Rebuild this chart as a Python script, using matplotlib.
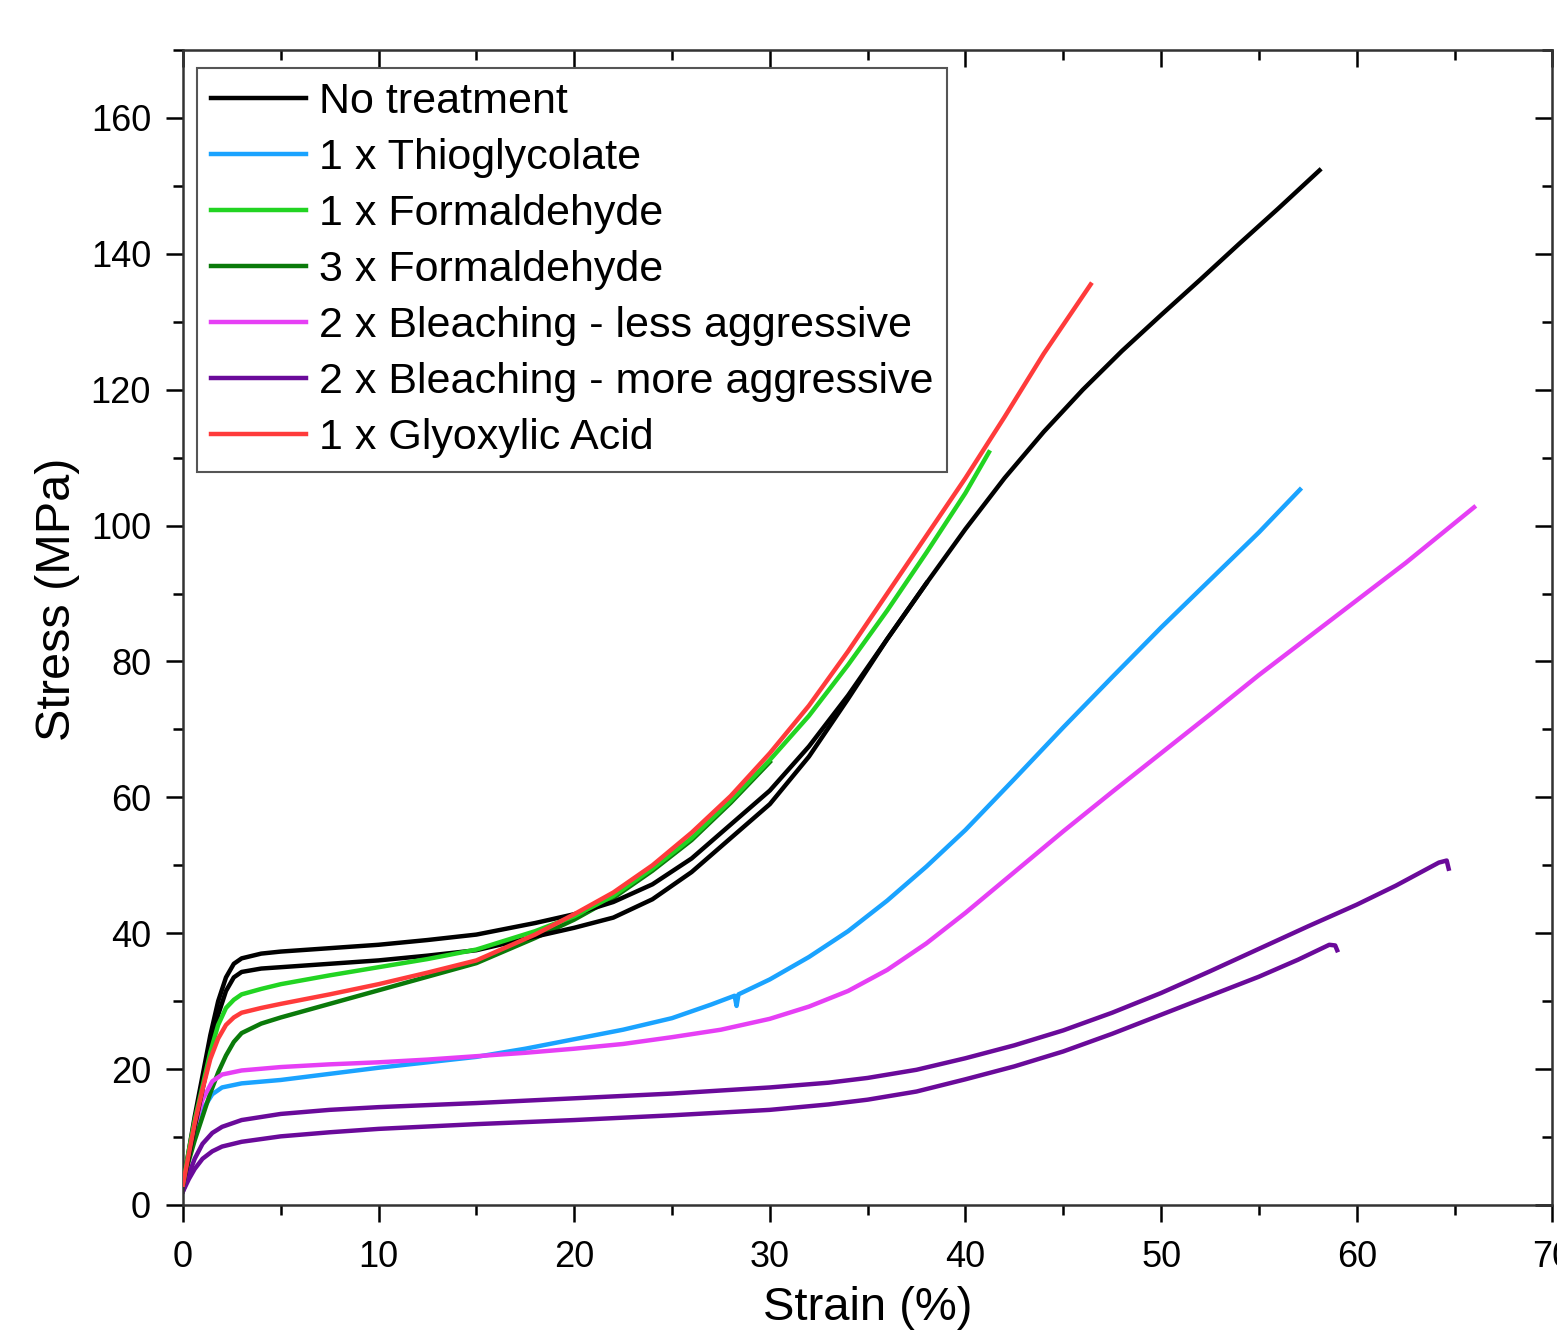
import numpy as np
import matplotlib
matplotlib.use("Agg")
import matplotlib.pyplot as plt
from matplotlib.ticker import MultipleLocator

plt.rcParams['font.family'] = ['Liberation Sans', 'DejaVu Sans']

# No treatment, two samples
nt1_x = [0, 0.3, 0.6, 1.0, 1.4, 1.8, 2.2, 2.6, 3.0, 4, 5, 7.5, 10, 12.5, 15, 18, 20, 22, 24, 26, 28,
         30, 32, 34, 36, 38, 40, 42, 44, 46, 48, 50, 52, 54, 56, 58.1]
nt1_y = [3, 8, 13, 19, 25, 30, 33.5, 35.5, 36.3, 37, 37.3, 37.8, 38.3, 39, 39.8, 41.5, 42.8, 44.6, 47.2, 51, 56,
         61, 67.5, 75, 83.3, 91.5, 99.5, 107, 113.8, 120, 125.7, 131, 136.2, 141.5, 146.7, 152.3]
nt2_x = [0, 0.3, 0.6, 1.0, 1.4, 1.8, 2.2, 2.6, 3.0, 4, 5, 7.5, 10, 12.5, 15, 18, 20, 22, 24, 26, 28,
         30, 32, 34, 36, 38]
nt2_y = [3, 7, 11.5, 17, 22.5, 28, 31.5, 33.5, 34.3, 34.8, 35.0, 35.5, 36.0, 36.7, 37.5, 39.5, 40.8, 42.3, 45, 49, 54,
         59, 66, 74.5, 83.3, 91.5]

# 1 x Thioglycolate
thio_x = [0, 0.3, 0.6, 1.0, 1.5, 2.0, 3, 5, 7.5, 10, 12.5, 15, 17.5, 20, 22.5, 25, 27, 28.2, 28.3, 28.4,
          30, 32, 34, 36, 38, 40, 42.5, 45, 47.5, 50, 52.5, 55, 57.1]
thio_y = [3, 7, 10.5, 14, 16.3, 17.3, 17.9, 18.4, 19.3, 20.2, 21, 21.8, 23, 24.4, 25.8, 27.5, 29.5, 30.8, 29.3, 31,
          33.2, 36.5, 40.3, 44.8, 49.8, 55.2, 62.7, 70.3, 77.7, 85, 92, 99, 105.3]

# 1 x Formaldehyde
form1_x = [0, 0.3, 0.6, 1.0, 1.4, 1.8, 2.2, 2.6, 3.0, 4, 5, 7.5, 10, 12.5, 15, 18, 20, 22, 24, 26, 28,
           30, 32, 34, 36, 38, 40, 41.2]
form1_y = [3, 8, 12.5, 17.5, 22.5, 26.5, 29, 30.2, 31, 31.8, 32.5, 33.8, 35.0, 36.2, 37.6, 40.3, 42.5, 45.5, 49.5, 54, 59.5,
           65.5, 72, 79.5, 87.5, 96, 104.8, 110.8]

# 3 x Formaldehyde
form3_x = [0, 0.3, 0.6, 1.0, 1.4, 1.8, 2.2, 2.6, 3.0, 4, 5, 7.5, 10, 12.5, 15, 18, 20, 22, 24, 26, 28, 30]
form3_y = [3, 6.5, 9.5, 13, 16.5, 19.5, 22, 24, 25.3, 26.7, 27.6, 29.6, 31.6, 33.6, 35.6, 39.3, 42, 45.2, 49.2, 53.7, 59.2, 65.2]

# 2 x Bleaching - less aggressive
bl_less_x = [0, 0.3, 0.6, 1.0, 1.5, 2.0, 3, 5, 7.5, 10, 12.5, 15, 17.5, 20, 22.5, 25, 27.5, 30, 32, 34,
             36, 38, 40, 42.5, 45, 47.5, 50, 52.5, 55, 57.5, 60, 62.5, 66.0]
bl_less_y = [3, 7.5, 11.5, 15.5, 18.2, 19.2, 19.8, 20.3, 20.7, 21.0, 21.4, 21.9, 22.4, 23.0, 23.7, 24.7, 25.8, 27.4, 29.2, 31.5,
             34.6, 38.5, 43, 49, 55, 60.8, 66.5, 72.2, 78, 83.5, 89, 94.5, 102.7]

# 2 x Bleaching - more aggressive, two samples
bl_more1_x = [0, 0.3, 0.6, 1.0, 1.5, 2.0, 3, 5, 7.5, 10, 15, 20, 25, 30, 33, 35, 37.5, 40, 42.5, 45,
              47.5, 50, 52.5, 55, 57.5, 60, 62, 64.2, 64.6, 64.7]
bl_more1_y = [2, 4.5, 6.8, 9, 10.6, 11.5, 12.5, 13.4, 14.0, 14.4, 15.0, 15.7, 16.4, 17.3, 18.0, 18.7, 19.9, 21.6, 23.5, 25.7,
              28.3, 31.2, 34.4, 37.7, 41, 44.2, 47, 50.4, 50.7, 49.5]
bl_more2_x = [0, 0.3, 0.6, 1.0, 1.5, 2.0, 3, 5, 7.5, 10, 15, 20, 25, 30, 33, 35, 37.5, 40, 42.5, 45,
              47.5, 50, 52.5, 55, 57, 58.6, 58.9, 59.0]
bl_more2_y = [2, 3.8, 5.3, 6.8, 7.9, 8.6, 9.3, 10.1, 10.7, 11.2, 11.9, 12.5, 13.2, 14.0, 14.8, 15.5, 16.7, 18.5, 20.4, 22.6,
              25.2, 28.0, 30.8, 33.6, 36.1, 38.3, 38.2, 37.5]

# 1 x Glyoxylic Acid
glyox_x = [0, 0.3, 0.6, 1.0, 1.4, 1.8, 2.2, 2.6, 3.0, 4, 5, 7.5, 10, 12.5, 15, 18, 20, 22, 24, 26, 28,
           30, 32, 34, 36, 38, 40, 42, 44, 46.4]
glyox_y = [3, 7.5, 12, 17, 21.5, 24.5, 26.5, 27.6, 28.3, 29.0, 29.6, 31.0, 32.5, 34.2, 36.0, 39.8, 42.8, 46, 50, 54.8, 60.2,
           66.5, 73.5, 81.5, 90, 98.5, 107, 116, 125.3, 135.5]

fig = plt.figure(figsize=(15.57, 13.35), dpi=100)
ax = fig.add_axes([0.1175, 0.0974, 0.8795, 0.8651])

lw = 3.2
ax.plot(nt1_x, nt1_y, color='#000000', lw=lw, label='No treatment', zorder=3)
ax.plot(nt2_x, nt2_y, color='#000000', lw=lw, zorder=3)
ax.plot(thio_x, thio_y, color='#1aa3ff', lw=lw, label='1 x Thioglycolate')
ax.plot(form3_x, form3_y, color='#0a7a0a', lw=lw, zorder=2)
ax.plot(form1_x, form1_y, color='#22d422', lw=lw, label='1 x Formaldehyde', zorder=4)
ax.plot([], [], color='#0a7a0a', lw=lw, label='3 x Formaldehyde')
ax.plot(bl_less_x, bl_less_y, color='#e63ff5', lw=lw, label='2 x Bleaching - less aggressive')
ax.plot(bl_more1_x, bl_more1_y, color='#6a0a9a', lw=lw, label='2 x Bleaching - more aggressive')
ax.plot(bl_more2_x, bl_more2_y, color='#6a0a9a', lw=lw)
ax.plot(glyox_x, glyox_y, color='#ff3b3b', lw=lw, label='1 x Glyoxylic Acid', zorder=5)

ax.set_xlim(0, 70)
ax.set_ylim(0, 170)
ax.xaxis.set_major_locator(MultipleLocator(10))
ax.xaxis.set_minor_locator(MultipleLocator(5))
ax.yaxis.set_major_locator(MultipleLocator(20))
ax.yaxis.set_minor_locator(MultipleLocator(10))
ax.tick_params(which='major', direction='out', length=12, width=1.8, labelsize=26)
ax.tick_params(axis='x', which='major', pad=13)
ax.tick_params(axis='y', which='major', pad=11)
ax.tick_params(which='minor', direction='out', length=7, width=1.8)
for s in ax.spines.values():
    s.set_linewidth(1.8)
    s.set_color('#333333')

# mirrored ticks pointing inward on top and right
secx = ax.secondary_xaxis('top')
secx.xaxis.set_major_locator(MultipleLocator(10))
secx.xaxis.set_minor_locator(MultipleLocator(5))
secx.tick_params(which='major', direction='in', length=12, width=1.8, labeltop=False)
secx.tick_params(which='minor', direction='in', length=7, width=1.8)
secy = ax.secondary_yaxis('right')
secy.yaxis.set_major_locator(MultipleLocator(20))
secy.yaxis.set_minor_locator(MultipleLocator(10))
secy.tick_params(which='major', direction='in', length=12, width=1.8, labelright=False)
secy.tick_params(which='minor', direction='in', length=7, width=1.8)

ax.set_xlabel('Strain (%)', fontsize=34, labelpad=8)
ax.set_ylabel('Stress (MPa)', fontsize=35, labelpad=8)
ax.yaxis.set_label_coords(-0.075, 0.524)

leg = ax.legend(loc='upper left', bbox_to_anchor=(0.0102, 0.9844), borderaxespad=0,
                fontsize=31, frameon=True, fancybox=False, framealpha=1, edgecolor='#555555',
                handlelength=2.2, handletextpad=0.3, labelspacing=0.37, borderpad=0.33)
leg.get_frame().set_linewidth(1.5)

plt.savefig('out.png', dpi=100)
